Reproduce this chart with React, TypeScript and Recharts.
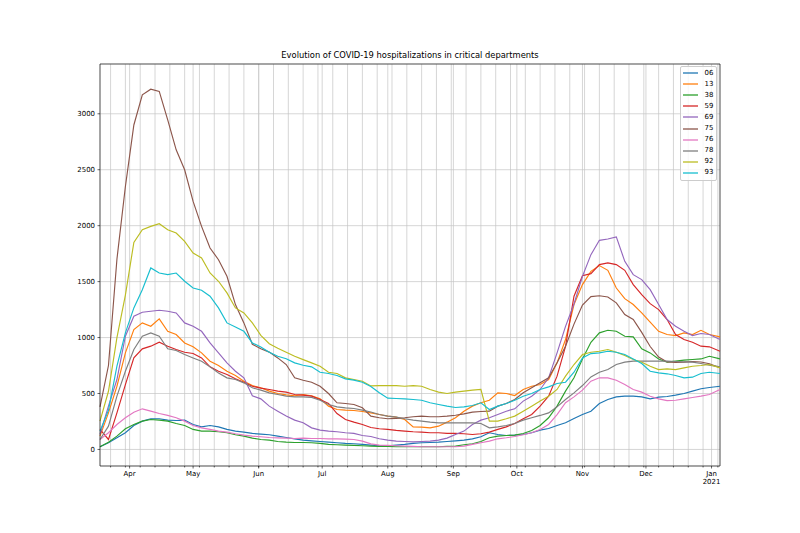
import {
  LineChart,
  Line,
  XAxis,
  YAxis,
  CartesianGrid,
  ReferenceLine,
  Legend,
} from "recharts";

// day offsets from 2020-03-18 (sampled every 4 days, last point = 2021-01-05)
const DAYS = [
  0, 4, 8, 12, 16, 20, 24, 28, 32, 36, 40, 44, 48, 52, 56, 60, 64, 68, 72, 76,
  80, 84, 88, 92, 96, 100, 104, 108, 112, 116, 120, 124, 128, 132, 136, 140,
  144, 148, 152, 156, 160, 164, 168, 172, 176, 180, 184, 188, 192, 196, 200,
  204, 208, 212, 216, 220, 224, 228, 232, 236, 240, 244, 248, 252, 256, 260,
  264, 268, 272, 276, 280, 284, 288, 293,
];

const DEPT_06 = [
  24, 60, 104, 149, 214, 253, 274, 274, 262, 259, 262, 223, 202, 214, 202, 179,
  164, 155, 143, 137, 131, 119, 107, 95, 83, 77, 71, 65, 60, 54, 51, 45, 39, 33,
  33, 39, 45, 54, 60, 62, 65, 71, 77, 83, 95, 113, 149, 134, 125, 128, 134, 149,
  173, 187, 214, 238, 277, 312, 342, 411, 446, 470, 476, 476, 470, 452, 467,
  473, 485, 500, 521, 542, 554, 565,
];
const DEPT_13 = [
  119, 327, 565, 863, 1071, 1131, 1101, 1167, 1056, 1027, 952, 917, 863, 789,
  750, 699, 661, 610, 571, 551, 521, 500, 488, 480, 490, 480, 452, 387, 357,
  351, 348, 339, 327, 312, 298, 289, 268, 202, 199, 193, 208, 244, 283, 342,
  387, 417, 440, 506, 500, 482, 536, 565, 580, 625, 774, 982, 1295, 1473, 1592,
  1643, 1601, 1443, 1348, 1295, 1220, 1137, 1056, 1027, 1018, 1042, 1027, 1065,
  1027, 1006,
];
const DEPT_38 = [
  24, 65, 119, 185, 223, 253, 268, 262, 253, 232, 214, 179, 164, 164, 158, 149,
  131, 119, 101, 89, 83, 71, 65, 62, 62, 60, 54, 45, 42, 39, 36, 33, 30, 27, 27,
  24, 24, 24, 24, 24, 24, 27, 30, 42, 51, 71, 104, 119, 125, 128, 143, 170, 214,
  283, 387, 521, 640, 809, 958, 1042, 1065, 1056, 1012, 1006, 899, 863, 809,
  780, 789, 798, 804, 809, 833, 809,
];
const DEPT_59 = [
  179, 89, 327, 580, 818, 899, 923, 958, 923, 893, 869, 857, 818, 738, 699, 670,
  631, 601, 565, 548, 536, 521, 512, 491, 485, 476, 446, 411, 321, 268, 244,
  223, 196, 185, 179, 170, 164, 158, 155, 149, 149, 143, 143, 140, 134, 140,
  155, 179, 202, 232, 274, 312, 387, 476, 655, 922, 1369, 1553, 1571, 1652,
  1667, 1652, 1601, 1473, 1384, 1303, 1250, 1161, 1027, 982, 958, 923, 917, 878,
];
const DEPT_69 = [
  134, 387, 625, 1012, 1190, 1226, 1235, 1244, 1235, 1220, 1131, 1101, 1056,
  952, 863, 774, 699, 640, 480, 452, 387, 342, 298, 262, 238, 193, 173, 164,
  158, 149, 143, 125, 116, 95, 83, 74, 71, 68, 71, 74, 83, 101, 134, 164, 223,
  262, 283, 312, 342, 363, 432, 476, 536, 640, 863, 1100, 1300, 1547, 1741,
  1869, 1881, 1900, 1681, 1562, 1518, 1428, 1295, 1161, 1101, 1056, 1018, 1036,
  1027, 982,
];
const DEPT_75 = [
  380, 750, 1700, 2350, 2900, 3170, 3220, 3200, 2946, 2678, 2500, 2217, 1994,
  1800, 1696, 1548, 1295, 1131, 940, 900, 870, 818, 759, 640, 619, 601, 565,
  500, 417, 411, 402, 372, 298, 283, 274, 277, 283, 292, 298, 292, 292, 298,
  306, 318, 333, 339, 342, 387, 411, 446, 506, 551, 595, 640, 774, 922, 1120,
  1290, 1366, 1374, 1362, 1310, 1205, 1161, 1046, 920, 826, 782, 777, 780, 786,
  782, 766, 730,
];
const DEPT_76 = [
  89, 149, 223, 283, 333, 363, 342, 321, 304, 283, 253, 214, 193, 179, 164, 155,
  140, 128, 119, 113, 107, 104, 101, 98, 101, 98, 98, 95, 95, 92, 89, 74, 50,
  39, 36, 33, 30, 27, 24, 24, 24, 24, 24, 30, 45, 60, 74, 95, 104, 116, 131,
  149, 179, 223, 312, 417, 470, 530, 610, 640, 640, 619, 580, 536, 512, 476,
  452, 437, 440, 452, 464, 476, 491, 536,
];
const DEPT_78 = [
  89, 208, 476, 699, 893, 1012, 1042, 1012, 899, 884, 848, 818, 789, 738, 684,
  640, 625, 595, 551, 530, 506, 491, 476, 470, 470, 465, 440, 402, 381, 372,
  366, 351, 335, 312, 298, 289, 274, 262, 253, 244, 238, 238, 238, 238, 238,
  232, 193, 202, 214, 232, 262, 283, 304, 327, 381, 446, 506, 571, 648, 690,
  714, 759, 780, 789, 789, 789, 789, 789, 786, 783, 780, 768, 753, 738,
];
const DEPT_92 = [
  253, 520, 1000, 1380, 1850, 1964, 1994, 2018, 1964, 1934, 1860, 1756, 1711,
  1577, 1503, 1399, 1265, 1220, 1131, 1020, 945, 905, 868, 833, 803, 774, 744,
  690, 679, 640, 625, 610, 568, 571, 571, 571, 565, 571, 565, 536, 512, 500,
  512, 521, 530, 536, 253, 253, 274, 298, 342, 387, 432, 476, 536, 655, 759,
  848, 869, 878, 893, 869, 839, 804, 780, 744, 714, 720, 714, 729, 744, 750,
  759, 729,
];
const DEPT_93 = [
  164, 350, 744, 1042, 1265, 1428, 1622, 1577, 1562, 1577, 1503, 1443, 1423,
  1369, 1265, 1131, 1095, 1056, 952, 916, 869, 833, 810, 774, 753, 738, 690,
  679, 661, 631, 619, 601, 562, 506, 458, 455, 452, 446, 440, 417, 402, 387,
  375, 381, 393, 417, 357, 387, 411, 440, 476, 500, 536, 559, 589, 601, 690,
  818, 857, 863, 878, 869, 848, 809, 768, 699, 684, 676, 661, 640, 646, 679,
  690, 679,
];

const SERIES = [
  { key: "06", values: DEPT_06, color: "#1f77b4" },
  { key: "13", values: DEPT_13, color: "#ff7f0e" },
  { key: "38", values: DEPT_38, color: "#2ca02c" },
  { key: "59", values: DEPT_59, color: "#d62728" },
  { key: "69", values: DEPT_69, color: "#9467bd" },
  { key: "75", values: DEPT_75, color: "#8c564b" },
  { key: "76", values: DEPT_76, color: "#e377c2" },
  { key: "78", values: DEPT_78, color: "#7f7f7f" },
  { key: "92", values: DEPT_92, color: "#bcbd22" },
  { key: "93", values: DEPT_93, color: "#17becf" },
];

// first day of each month, as day offsets
const MONTH_TICKS = [14, 44, 75, 105, 136, 167, 197, 228, 258, 289];
const MONTH_LABELS = ["Apr", "May", "Jun", "Jul", "Aug", "Sep", "Oct", "Nov", "Dec", "Jan"];
const Y_TICKS = [0, 500, 1000, 1500, 2000, 2500, 3000];

const X_MAX = 293;
const Y_MIN = -148;
const Y_MAX = 3445;

// mondays (minor ticks), starting 2020-03-23
const WEEK_TICKS = Array.from({ length: 42 }, (_, k) => 5 + 7 * k);

const FONT = 6.94;
const GRID = "#c4c4c4";

const data = DAYS.map((d, i) => {
  const row: Record<string, number> = { d };
  SERIES.forEach((s) => (row[s.key] = s.values[i]));
  return row;
});

// eslint-disable-next-line @typescript-eslint/no-explicit-any
function MonthTick({ x, y, payload }: any) {
  const i = MONTH_TICKS.indexOf(payload.value);
  return (
    <text x={x} y={y} dy="0.71em" textAnchor="middle" fontSize={FONT} fill="#000">
      {MONTH_LABELS[i]}
      {i === MONTH_TICKS.length - 1 && (
        <tspan x={x} dy="1.2em">
          2021
        </tspan>
      )}
    </text>
  );
}

// eslint-disable-next-line @typescript-eslint/no-explicit-any
function LegendBox({ payload }: any) {
  return (
    <div
      style={{
        border: "1px solid #cccccc",
        borderRadius: 2,
        background: "rgba(255,255,255,0.8)",
        padding: "0.5px 0 1.5px 0",
        width: 37,
        boxSizing: "border-box",
      }}
    >
      {(payload || []).map((p: any) => (
        <div
          key={p.value}
          style={{ height: 11.1, display: "flex", alignItems: "center", fontSize: FONT }}
        >
          <svg width={15} height={4} style={{ marginLeft: 2, marginRight: 6.5 }}>
            <line x1={0} y1={2} x2={15} y2={2} stroke={p.color} strokeWidth={1.3} />
          </svg>
          <span style={{ color: "#000", lineHeight: 1 }}>{p.value}</span>
        </div>
      ))}
    </div>
  );
}

export default function App() {
  return (
    <div
      style={{
        position: "relative",
        width: 800,
        height: 533,
        background: "#fff",
        fontFamily: "'DejaVu Sans', sans-serif",
      }}
    >
      <style>{`body{margin:0}`}</style>
      <div
        style={{
          position: "absolute",
          top: 50,
          left: 100,
          width: 620,
          textAlign: "center",
          fontSize: 8.33,
          lineHeight: "10px",
          color: "#000",
        }}
      >
        Evolution of COVID-19 hospitalizations in critical departments
      </div>
      <LineChart
        width={800}
        height={533}
        data={data}
        margin={{ top: 64, right: 80, bottom: 37, left: 50 }}
      >
        <CartesianGrid stroke={GRID} strokeWidth={0.7} />
        {WEEK_TICKS.map((w) => (
          <ReferenceLine key={`g${w}`} x={w} stroke={GRID} strokeWidth={0.7} />
        ))}
        {WEEK_TICKS.map((w) => (
          <ReferenceLine
            key={`t${w}`}
            segment={[
              { x: w, y: Y_MIN },
              { x: w, y: Y_MIN - 13 },
            ]}
            stroke="#000"
            strokeWidth={0.6}
            ifOverflow="visible"
          />
        ))}
        <XAxis
          dataKey="d"
          type="number"
          domain={[0, X_MAX]}
          ticks={MONTH_TICKS}
          interval={0}
          height={30}
          tick={<MonthTick />}
          tickSize={2.5}
          tickMargin={2.5}
          stroke="#000"
          strokeWidth={0.6}
        />
        <YAxis
          type="number"
          domain={[Y_MIN, Y_MAX]}
          ticks={Y_TICKS}
          interval={0}
          width={50}
          tick={{ fontSize: FONT, fill: "#000" }}
          tickSize={2.5}
          tickMargin={2.5}
          stroke="#000"
          strokeWidth={0.6}
        />
        <ReferenceLine y={Y_MAX} stroke="#000" strokeWidth={0.6} ifOverflow="visible" />
        <ReferenceLine x={X_MAX} stroke="#000" strokeWidth={0.6} ifOverflow="visible" />
        {SERIES.map((s) => (
          <Line
            key={s.key}
            dataKey={s.key}
            name={s.key}
            stroke={s.color}
            strokeWidth={1.15}
            dot={false}
            type="linear"
            isAnimationActive={false}
          />
        ))}
        <Legend
          layout="vertical"
          align="center"
          verticalAlign="middle"
          content={<LegendBox />}
          wrapperStyle={{ position: "absolute", top: 66, left: 680, width: 37 }}
        />
      </LineChart>
    </div>
  );
}
